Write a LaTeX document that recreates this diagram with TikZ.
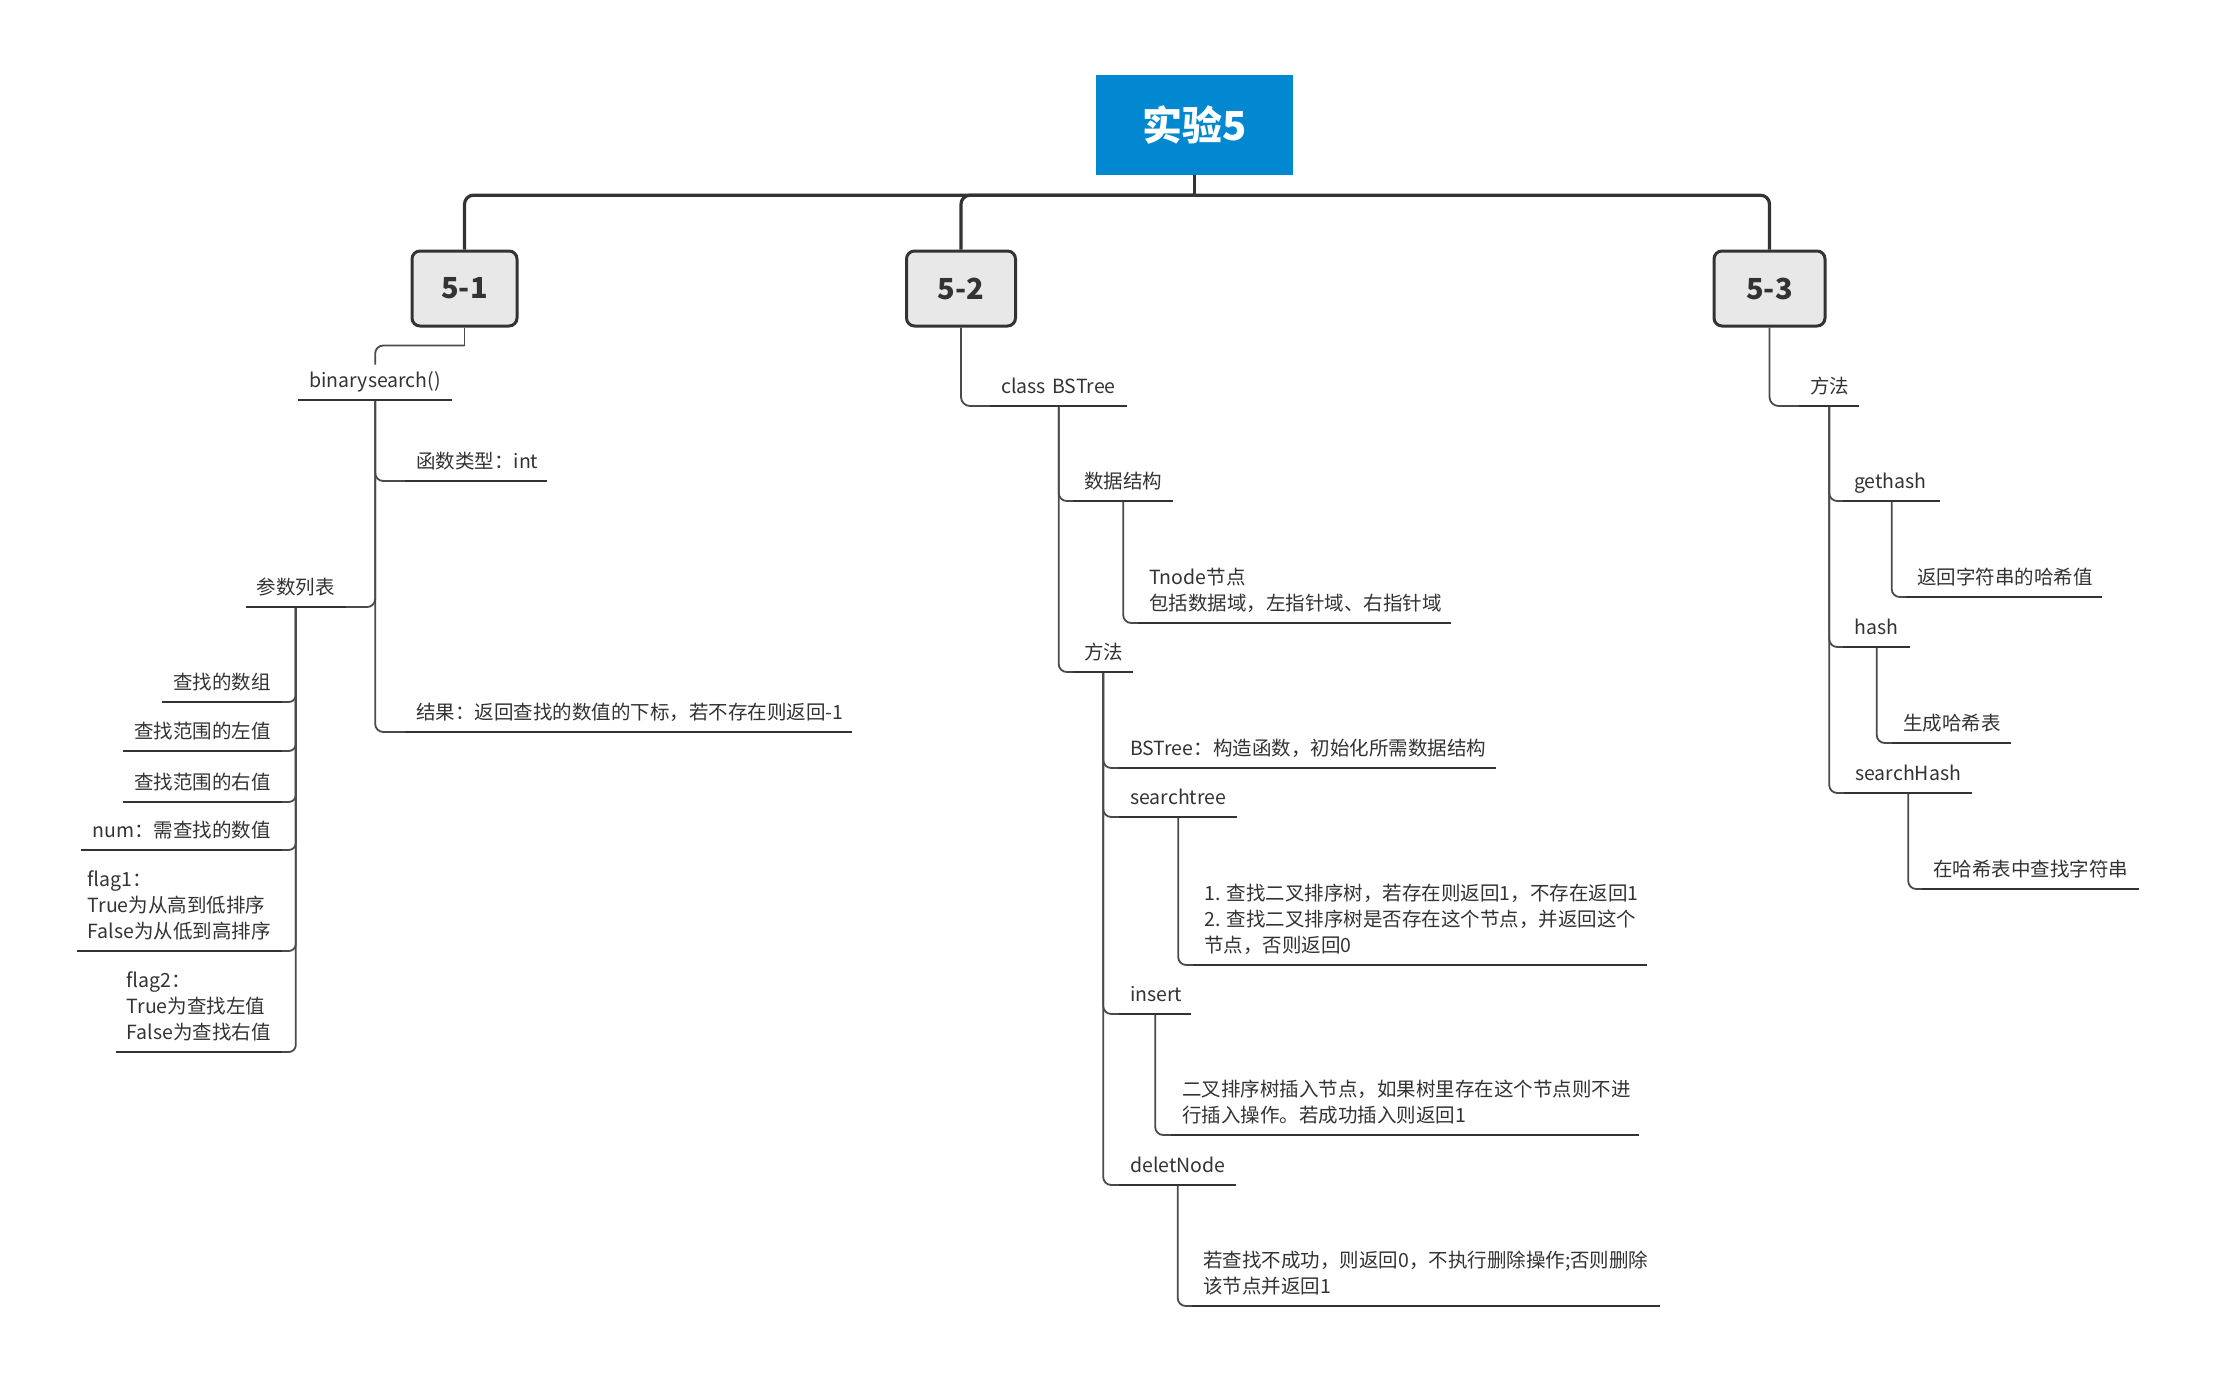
\documentclass[tikz,border=0pt]{standalone}
\usepackage{fontspec}
\setmainfont{Noto Sans CJK SC}
\definecolor{txt}{HTML}{333333}
\definecolor{lin}{HTML}{333333}
\definecolor{cnn}{HTML}{4A4A4A}
\definecolor{rootblue}{HTML}{0288D1}
\definecolor{boxgray}{HTML}{E8E8E8}
\newcommand\tfont{\fontsize{19.5}{26}\selectfont}
\tikzset{
  rootbox/.style={rectangle, fill=rootblue, text=white, minimum width=197pt, minimum height=100pt,
    font=\fontsize{40}{48}\selectfont\bfseries},
  lvlbox/.style={rectangle, rounded corners=8pt, draw=lin, line width=3pt, fill=boxgray, text=txt,
    minimum height=75pt, font=\fontsize{29}{34}\selectfont\bfseries},
  topic/.style={anchor=south west, inner xsep=11pt, inner ysep=4.5pt, text=txt, font=\tfont,
    align=left, execute at end node=\strut},
  ltopic/.style={topic, anchor=south east},
  mainline/.style={draw=lin, line width=3.2pt, rounded corners=9pt},
  conn/.style={draw=cnn, line width=1.8pt, rounded corners=8pt},
  uline/.style={draw=lin, line width=2.4pt}
}
\begin{document}
\begin{tikzpicture}[x=1pt,y=-1pt]
\useasboundingbox (0,0) rectangle (2214,1383);
\fill[white] (0,0) rectangle (2214,1383);

% root and level 1
\node[rootbox] (root) at (1194.5,125) {实验5};
\node[lvlbox, minimum width=105pt] (c51) at (464.5,288.5) {5-1};
\node[lvlbox, minimum width=109pt] (c52) at (961,288.5) {5-2};
\node[lvlbox, minimum width=111pt] (c53) at (1769.5,288.5) {5-3};

% 5-1 subtree
\node[topic, align=center, text width=132pt] (bs) at (298,400) {binarysearch()};
\node[topic, text width=120pt] (fn) at (405,481) {函数类型：int};
\node[ltopic] (cs) at (346,607) {参数列表};
\node[topic, text width=425pt] (res) at (405,732) {\mbox{结果：返回查找的数值的下标，若不存在则返回-1}};
\node[ltopic] (a1) at (282,702) {查找的数组};
\node[ltopic] (a2) at (282,751) {查找范围的左值};
\node[ltopic] (a3) at (282,802) {查找范围的右值};
\node[ltopic] (a4) at (282,850) {num：需查找的数值};
\node[ltopic] (a5) at (282,951) {flag1：\\True为从高到低排序\\False为从低到高排序};
\node[ltopic] (a6) at (282,1052) {flag2：\\True为查找左值\\False为查找右值};

% 5-2 subtree
\node[topic, text width=115pt] (cb) at (990,406) {class~BSTree};
\node[topic, text width=78pt] (ds) at (1073,501) {数据结构};
\node[topic, text width=291pt] (tn) at (1138,623) {Tnode节点\\包括数据域，左指针域、右指针域};
\node[topic, text width=38pt] (fm) at (1073,672) {方法};
\node[topic, text width=355pt] (m1) at (1119,768) {BSTree：构造函数，初始化所需数据结构};
\node[topic, text width=96pt] (m2) at (1119,817) {searchtree};
\node[topic, text width=432pt] (m2d) at (1193,965) {1.~查找二叉排序树，若存在则返回1，不存在返回1\\2.~查找二叉排序树是否存在这个节点，并返回这个\\节点，否则返回0};
\node[topic, text width=50pt] (m3) at (1119,1014) {insert};
\node[topic, text width=446pt] (m3d) at (1171,1135) {二叉排序树插入节点，如果树里存在这个节点则不进\\行插入操作。若成功插入则返回1};
\node[topic, text width=95pt] (m4) at (1119,1185) {deletNode};
\node[topic, text width=446pt] (m4d) at (1192,1306) {若查找不成功，则返回0，不执行删除操作;否则删除\\该节点并返回1};

% 5-3 subtree
\node[topic, text width=38pt] (f3) at (1799,406) {方法};
\node[topic, text width=75pt] (g1) at (1843,501) {gethash};
\node[topic, text width=174pt] (g1d) at (1906,597) {返回字符串的哈希值};
\node[topic, text width=45pt] (g2) at (1843,647) {hash};
\node[topic, text width=97pt] (g2d) at (1892,743) {生成哈希表};
\node[topic, text width=106pt] (g3) at (1844,793) {searchHash};
\node[topic, text width=195pt] (g3d) at (1922,889) {在哈希表中查找字符串};

% root connectors
\draw[draw=lin, line width=3.2pt] (root.south) -- ++(0,20) coordinate (j);
\draw[mainline] (j) -| (c51.north);
\draw[mainline] (j) -| (c52.north);
\draw[mainline] (j) -| (c53.north);

% level-1 connectors
\draw[draw=cnn, line width=1.8pt] (c51.south) -- ++(0,18) coordinate (k1);
\draw[conn] (k1) -| (bs.north);
\draw[conn, rounded corners=9pt] (c52.south) |- (cb.south west);
\draw[conn, rounded corners=9pt] (c53.south) |- (f3.south west);

% 5-1 connectors
\draw[conn] (bs.south) |- (fn.south west);
\draw[conn] (bs.south) |- (res.south west);
\draw[conn] (bs.south) |- (cs.south east);
\foreach \n in {a1,a2,a3,a4,a5,a6} \draw[conn, rounded corners=7pt] (cs.south) |- (\n.south east);

% 5-2 connectors
\draw[conn] (cb.south) |- (ds.south west);
\draw[conn] (cb.south) |- (fm.south west);
\draw[conn] (ds.south) |- (tn.south west);
\foreach \n in {m1,m2,m3,m4} \draw[conn] (fm.south) |- (\n.south west);
\draw[conn] (m2.south) |- (m2d.south west);
\draw[conn] (m3.south) |- (m3d.south west);
\draw[conn] (m4.south) |- (m4d.south west);

% 5-3 connectors
\foreach \n in {g1,g2,g3} \draw[conn] (f3.south) |- (\n.south west);
\draw[conn] (g1.south) |- (g1d.south west);
\draw[conn] (g2.south) |- (g2d.south west);
\draw[conn] (g3.south) |- (g3d.south west);

% underlines
\foreach \n in {bs,fn,cs,res,a1,a2,a3,a4,a5,a6,cb,ds,tn,fm,m1,m2,m2d,m3,m3d,m4,m4d,f3,g1,g1d,g2,g2d,g3,g3d}
  \draw[uline] (\n.south west) -- (\n.south east);
\end{tikzpicture}
\end{document}
